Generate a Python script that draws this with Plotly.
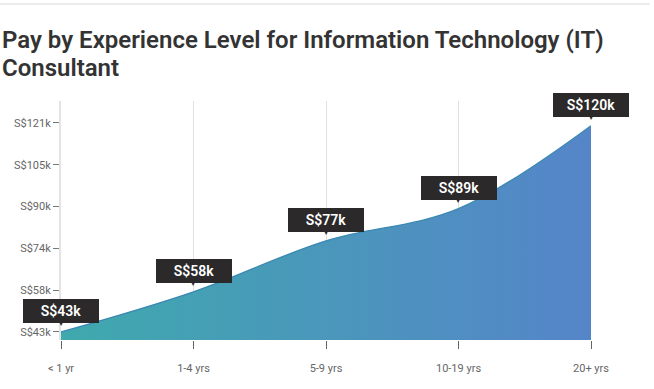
import plotly.graph_objects as go

categories = ["< 1 yr", "1-4 yrs", "5-9 yrs", "10-19 yrs", "20+ yrs"]
pay_k = [43, 58, 77, 89, 120]
pay_labels = ["S$43k", "S$58k", "S$77k", "S$89k", "S$120k"]
y_tick_vals = [43, 58.6, 74.2, 89.8, 105.4, 121]
y_tick_text = ["S$43k", "S$58k", "S$74k", "S$90k", "S$105k", "S$121k"]
title_lines = ["Pay by Experience Level for Information Technology (IT)", "Consultant"]

xpos = list(range(len(categories)))

fig = go.Figure()
fig.add_trace(go.Scatter(
    x=xpos, y=pay_k, mode="lines",
    line=dict(shape="spline", smoothing=1.0, color="#3a88b2", width=1.3),
    fill="tozeroy",
    fillgradient=dict(type="horizontal",
                      colorscale=[[0, "#3fa9ad"], [1, "#5585c9"]]),
    hoverinfo="skip", showlegend=False,
))

for x, y, t in zip(xpos, pay_k, pay_labels):
    fig.add_annotation(x=x, y=y, text=t, showarrow=False,
                       xanchor="center", yanchor="bottom", yshift=9,
                       bgcolor="#2b2929", bordercolor="#2b2929", borderpad=3,
                       width=68, height=16,
                       font=dict(family="Roboto", size=14, color="#ffffff", weight=600))
    fig.add_annotation(x=x, y=y, text="▼", showarrow=False,
                       xanchor="center", yanchor="bottom", yshift=3,
                       font=dict(family="DejaVu Sans", size=8, color="#2b2929"))

# title lines
for yp, line in zip([1.256, 1.136], title_lines):
    fig.add_annotation(xref="paper", yref="paper", x=-0.1155, y=yp, text=line,
                       showarrow=False, xanchor="left", yanchor="middle",
                       font=dict(family="Roboto", size=24, color="#333333", weight=600))

# top separator line
fig.add_shape(type="line", xref="paper", yref="paper",
              x0=-0.115, x1=1.111, y0=1.406, y1=1.406,
              line=dict(color="#e6e6e6", width=1.5))

fig.update_layout(
    width=654, height=389,
    margin=dict(l=61, r=63, t=101, b=49),
    paper_bgcolor="white", plot_bgcolor="white",
    font=dict(family="Roboto", color="#666666"),
    xaxis=dict(range=[0, 4], tickvals=xpos, ticktext=categories,
               showgrid=True, gridcolor="#e0e0e0", gridwidth=1,
               zeroline=False, showline=False,
               ticks="outside", ticklen=8, tickcolor="#666666", tickwidth=1,
               ticklabelstandoff=10,
               tickfont=dict(size=11, color="#666666"), fixedrange=True),
    yaxis=dict(range=[40, 129.2], tickvals=y_tick_vals, ticktext=y_tick_text,
               showgrid=False, zeroline=False,
               showline=True, linecolor="#e3e3e3", linewidth=2,
               ticks="outside", ticklen=6, tickcolor="#777777", tickwidth=1,
               tickfont=dict(size=11, color="#666666"), fixedrange=True),
)

fig.write_html("out.html", config={"displayModeBar": False},
               post_script="document.body.style.margin='0';document.body.style.overflow='hidden';")
